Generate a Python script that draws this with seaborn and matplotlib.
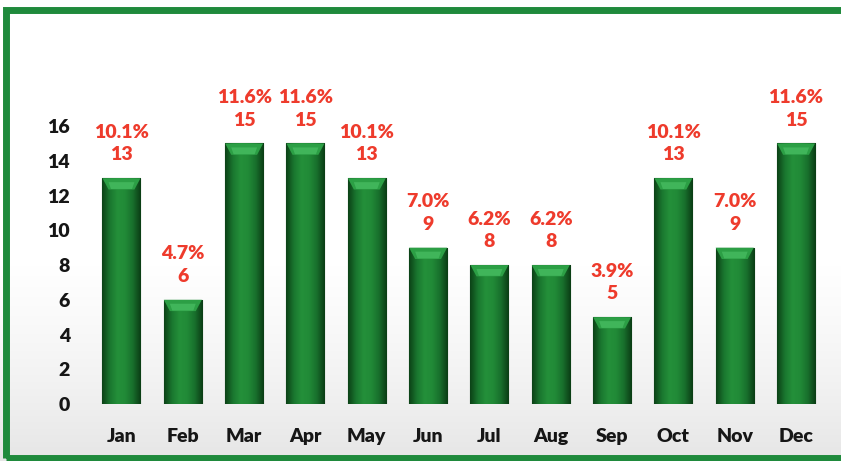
import numpy as np
import pandas as pd
import matplotlib
matplotlib.use("Agg")
import matplotlib.pyplot as plt
from matplotlib.colors import LinearSegmentedColormap
from matplotlib.patches import Rectangle, Polygon
import seaborn as sns

months = ["Jan", "Feb", "Mar", "Apr", "May", "Jun",
          "Jul", "Aug", "Sep", "Oct", "Nov", "Dec"]
counts = [13, 6, 15, 15, 13, 9, 8, 8, 5, 13, 9, 15]
y_ticks = [0, 2, 4, 6, 8, 10, 12, 14, 16]

df = pd.DataFrame({"month": months, "count": counts})
total = sum(counts)

sns.set_theme(style="white")
plt.rcParams["font.family"] = ["Lato", "DejaVu Sans"]

fig = plt.figure(figsize=(8.41, 4.61), dpi=100)
fig.patch.set_facecolor("white")

# soft grey shading toward the bottom of the chart area
bg = LinearSegmentedColormap.from_list("bg", ["#ffffff", "#ffffff", "#f3f3f3", "#e6e6e6"])
bg_ax = fig.add_axes([0, 0, 1, 1], zorder=-5)
bg_ax.imshow(np.linspace(0, 1, 200).reshape(-1, 1) ** 2, cmap=bg, aspect="auto",
             extent=(0, 1, 0, 1), origin="upper")
bg_ax.set_axis_off()

# green frame around the chart
fig.patches.append(Rectangle((0.007, 0.006), 0.995, 0.972, transform=fig.transFigure,
                             facecolor="none", edgecolor="#1f8a3c", linewidth=5, zorder=5))

ax = fig.add_axes([0.108, 0.1236, 0.875, 0.746], zorder=1)
ax.set_facecolor("none")

sns.barplot(data=df, x="month", y="count", color="#1d7d32", width=0.62,
            saturation=1, ax=ax, zorder=2)

ax.set_ylim(0, 19.8)
ax.set_xlim(-0.5, len(months) - 0.5)
ax.set_yticks(y_ticks)
ax.set_xlabel("")
ax.set_ylabel("")
for s in ax.spines.values():
    s.set_visible(False)
ax.tick_params(axis="y", length=0, pad=15, labelsize=14)
ax.tick_params(axis="x", length=0, pad=17, labelsize=14)
for lab in ax.get_xticklabels() + ax.get_yticklabels():
    lab.set_fontweight("heavy")
    lab.set_color("#161616")

# cylinder-like shading across each bar
shade = LinearSegmentedColormap.from_list(
    "shade", ["#0c4217", "#1a772f", "#24903a", "#218a37", "#186f2c", "#0b3d15"])
grad = np.linspace(0, 1, 64).reshape(1, -1)
for p in ax.patches:
    x0, w, h = p.get_x(), p.get_width(), p.get_height()
    if h <= 0:
        continue
    p.set_edgecolor("#0a3312")
    p.set_linewidth(0.8)
    im = ax.imshow(grad, cmap=shade, aspect="auto", extent=(x0, x0 + w, 0, h),
                   zorder=2.5, interpolation="bicubic")
    im.set_clip_path(p)
    # bevelled top
    bev = 0.65
    inset = w * 0.16
    top = Polygon([(x0, h), (x0 + w, h), (x0 + w - inset, h - bev), (x0 + inset, h - bev)],
                  closed=True, facecolor="#2c9f45", edgecolor="none", zorder=2.7)
    ax.add_patch(top)
    hi = Polygon([(x0 + inset, h - bev * 0.35), (x0 + w - inset, h - bev * 0.35),
                  (x0 + w - inset * 1.4, h - bev * 0.95), (x0 + inset * 1.4, h - bev * 0.95)],
                 closed=True, facecolor="#48bd62", edgecolor="none", alpha=0.75, zorder=2.8)
    ax.add_patch(hi)

# value and share labels above the bars
for i, v in enumerate(counts):
    pct = f"{100 * v / total:.1f}%"
    ax.text(i, v + 0.85, f"{pct}\n{v}", ha="center", va="bottom",
            fontsize=14, fontweight="heavy", color="#ee3b2c",
            linespacing=1.4, zorder=4)

fig.savefig("out.png", dpi=100, facecolor=fig.get_facecolor())
